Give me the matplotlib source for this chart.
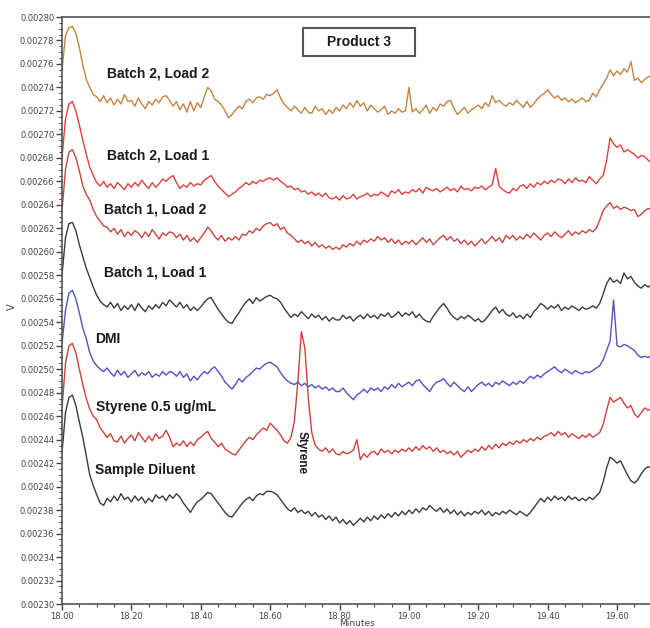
import matplotlib
matplotlib.use("Agg")
import matplotlib.pyplot as plt
import matplotlib.ticker as mticker
from matplotlib.patches import Rectangle
import numpy as np

# time axis (minutes), one reading every 0.01 min
minutes = np.round(np.arange(18.00, 19.705, 0.01), 2)

# detector signal, in units of 1e-5 V
batch2_load2 = [
    275.5, 278.4, 279.1, 279.2, 278.6, 277.4, 275.9, 274.7, 274.0, 273.4,
    273.2, 272.8, 273.3, 272.7, 273.1, 272.5, 273.0, 272.6, 273.4, 272.8,
    272.9, 272.4, 273.1, 272.6, 272.2, 272.8, 272.5, 273.0, 272.7, 273.2,
    273.3, 272.9, 272.4, 272.8, 272.1, 272.6, 271.9, 272.8, 272.0, 272.7,
    272.3, 273.2, 274.0, 273.7, 273.0, 272.8, 272.5, 272.0, 271.4, 271.7,
    272.1, 272.4, 272.2, 272.8, 273.0, 272.7, 273.1, 273.2, 273.0, 273.4,
    273.3, 273.5, 273.8, 273.1, 272.6, 272.3, 272.0, 272.4, 272.1, 271.8,
    272.3, 271.9, 271.8, 272.4, 272.0, 272.2, 271.7, 272.1, 271.8, 272.3,
    272.0, 272.5, 272.2, 272.7, 272.3, 272.9, 272.4, 272.7, 272.0, 272.5,
    272.2, 271.9, 272.1, 272.4, 271.7, 272.0, 271.8, 272.2, 271.9, 272.0,
    274.0, 271.9, 272.2, 271.8, 272.1, 272.5, 271.8, 272.3, 272.0, 272.6,
    272.4, 272.8, 272.9, 272.2, 271.7, 272.0, 272.3, 271.8, 272.1, 272.3,
    272.5, 272.2, 272.7, 272.4, 273.3, 272.7, 272.9, 272.6, 272.4, 272.7,
    272.5, 272.9, 272.6, 272.3, 272.8, 272.3, 272.6, 273.0, 273.3, 273.5,
    273.8, 273.4, 273.1, 273.3, 272.9, 273.1, 272.8, 273.0, 272.7, 272.9,
    273.1, 272.8, 272.9, 273.5, 273.2, 273.8, 274.3, 274.8, 275.5, 275.0,
    275.4, 275.1, 275.6, 275.3, 276.2, 274.6, 274.8, 274.4, 274.7, 274.9, 275.0]

batch2_load1 = [
    268.0, 271.3, 272.6, 272.8, 272.0, 270.8, 269.5, 268.3, 267.2, 266.5,
    265.9, 265.6, 266.0, 265.5, 265.8, 265.4, 265.9, 265.6, 265.3, 265.8,
    265.5, 265.9, 265.6, 266.1, 265.7, 265.4, 265.9, 265.5, 265.8, 266.2,
    266.0, 266.3, 266.5, 265.9, 265.4, 265.7, 265.5, 265.9, 265.6, 265.8,
    265.7, 266.1, 266.3, 266.5, 266.0, 265.6, 265.3, 265.0, 264.7, 264.9,
    265.1, 265.4, 265.6, 265.9, 265.7, 266.0, 265.8, 266.1, 266.0, 266.2,
    266.3, 266.1, 266.3, 266.0, 265.8, 265.5, 265.6, 265.3, 265.4, 265.1,
    265.2, 264.9, 265.1, 264.8, 265.0, 264.7, 265.0, 264.6, 264.5, 264.7,
    264.4, 264.8, 264.5, 264.6, 264.9, 264.5, 264.7, 264.8, 265.0, 264.7,
    264.9, 264.8, 265.1, 264.9, 264.7, 265.2, 265.0, 265.3, 264.9, 265.1,
    265.0, 265.3, 265.1, 265.4, 265.0, 265.5, 265.3, 265.2, 265.4, 265.1,
    265.3, 265.5, 265.2, 265.4, 265.1, 265.6, 265.3, 265.4, 265.2, 265.5,
    265.4, 265.6, 265.3, 265.5, 265.7, 267.1, 265.6, 265.3, 265.1, 265.0,
    265.4, 265.2, 265.6, 265.7, 265.4, 265.8, 265.5, 265.9, 265.7, 266.0,
    265.8, 266.1, 265.9, 266.2, 266.1, 265.8, 266.2, 265.9, 266.3, 266.0,
    266.1, 265.9, 266.4, 266.1, 265.8, 266.2, 266.5, 267.8, 269.7, 269.2,
    268.9, 269.1, 268.5, 268.7, 268.5, 268.3, 268.0, 268.2, 268.1, 267.8, 267.6]

batch1_load2 = [
    263.5, 267.0, 268.5, 268.7, 268.0, 266.9, 265.6, 264.9, 264.4, 263.6,
    263.0, 262.6, 262.2, 262.1, 261.7, 262.0, 261.5, 261.9, 261.3, 261.7,
    261.4, 261.8, 261.6, 261.2, 261.7, 261.3, 261.9, 261.5, 261.1, 261.6,
    261.4, 261.7, 261.6, 261.2, 261.5, 261.0, 261.4, 260.9, 261.2, 260.8,
    261.2, 261.6, 262.1, 261.8, 261.3, 261.0, 261.4, 260.9, 261.2, 261.0,
    261.3, 261.0, 261.5, 261.4, 261.8, 261.6, 262.0, 261.8, 262.2, 262.4,
    262.5, 262.2, 262.4, 261.9, 262.1, 261.6, 261.4, 261.1, 260.8, 261.0,
    260.7, 260.9, 260.5, 260.8, 260.4, 260.6, 260.3, 260.5, 260.2, 260.4,
    260.2, 260.6, 260.4, 260.7, 260.5, 260.9, 260.6, 261.0, 260.8, 261.1,
    260.9, 261.3, 261.0, 261.2, 260.8, 261.1, 260.7, 261.0, 260.6, 260.9,
    260.7, 261.0, 260.6, 260.9, 261.2, 260.8, 261.1, 260.6, 260.9, 261.2,
    261.4, 261.0, 261.3, 260.9, 261.1, 260.7, 261.0, 260.6, 260.9, 260.5,
    260.8, 261.1, 260.7, 261.0, 261.3, 260.9, 261.2, 260.8, 261.4, 261.1,
    261.4, 261.0, 261.3, 261.1, 261.5, 261.2, 261.6, 261.3, 261.0, 261.4,
    261.6, 261.3, 261.7, 261.4, 261.2, 261.5, 261.8, 261.4, 261.7, 261.5,
    261.8, 261.6, 261.9, 261.7, 262.0, 262.7, 263.5, 263.9, 264.2, 263.7,
    263.9, 263.6, 263.8, 263.7, 263.5, 263.6, 263.0, 263.2, 263.5, 263.7, 263.6]

batch1_load1 = [
    258.0, 261.2, 262.4, 262.5, 261.8, 260.6, 259.6, 258.6, 257.8, 257.0,
    256.3, 255.8, 255.5, 255.3, 255.7, 255.2, 255.6, 255.0, 255.4, 255.1,
    255.5, 255.0, 255.6, 255.2, 254.9, 255.4, 255.1, 255.5, 255.2, 255.7,
    255.4, 255.9, 255.6, 255.3, 255.7, 255.2, 255.5, 255.0, 255.3, 255.0,
    255.3, 255.7, 256.0, 256.1, 255.6, 255.1, 254.7, 254.3, 254.0, 253.9,
    254.4, 254.8, 255.3, 255.7, 256.0, 255.6, 256.1, 255.8, 256.0, 256.2,
    256.3, 256.1, 256.0, 255.7, 255.2, 254.8, 254.4, 254.7, 254.5, 254.9,
    254.6, 254.3, 254.7, 254.4, 254.6, 254.2, 254.5, 254.1, 254.4, 254.2,
    254.2, 254.6, 254.3, 254.5, 254.1, 254.4, 254.6, 254.3, 254.7, 254.4,
    254.6, 254.3, 254.7, 254.5, 254.8, 254.4, 254.6, 254.9, 254.5, 254.8,
    254.6, 254.9, 254.4, 254.7, 254.3, 254.1, 254.0, 254.5, 254.9, 255.3,
    255.6, 255.2, 254.7, 254.4, 254.2, 254.5, 254.3, 254.6, 254.4, 254.1,
    254.3, 254.0, 254.2, 254.6, 255.0, 255.3, 254.8, 255.1, 254.7, 254.5,
    254.8, 254.4, 254.6, 254.3, 254.7, 254.4, 254.9, 255.2, 255.6, 255.4,
    255.1, 255.4, 255.2, 255.5, 255.0, 255.3, 255.1, 255.4, 255.2, 255.0,
    255.3, 255.1, 255.2, 255.4, 255.2, 255.6, 256.4, 257.3, 257.8, 257.4,
    257.6, 257.3, 258.2, 257.7, 257.9, 257.4, 257.1, 256.9, 257.2, 257.0, 257.2]

dmi = [
    252.2, 255.0, 256.5, 256.7, 256.0, 254.8, 253.5, 252.6, 251.4, 250.7,
    250.3, 250.0, 249.8, 250.1, 249.7, 249.4, 249.9, 249.5, 249.8, 249.3,
    249.6, 249.9, 249.4, 249.7, 249.5, 249.8, 249.3, 249.6, 249.4, 249.8,
    249.5, 249.8, 249.7, 249.4, 249.8, 249.3, 249.6, 249.0, 249.4, 249.1,
    249.5, 249.8, 249.6, 250.0, 250.2, 249.8, 249.4, 248.9, 248.6, 248.3,
    248.7, 249.2, 248.9, 249.3, 249.5, 249.8, 250.1, 250.0, 250.3, 250.5,
    250.6, 250.4, 250.2, 249.7, 249.3, 249.0, 248.8, 248.7, 248.9, 248.6,
    248.8, 248.5, 248.7, 248.4, 248.6, 248.3, 248.5, 248.2, 248.4, 248.1,
    248.1, 248.4, 248.0, 247.7, 247.4, 247.8, 248.0, 248.3, 248.0, 248.4,
    248.2, 248.4, 248.1, 248.5, 248.3, 248.7, 248.4, 248.8, 248.5, 248.7,
    248.9, 248.6, 249.0, 249.1, 248.7, 248.4, 248.1, 248.6, 248.9, 249.0,
    249.2, 248.8, 248.5, 248.9, 248.6, 248.3, 248.1, 248.5, 248.1, 248.4,
    248.7, 248.9, 248.6, 248.8, 248.5, 248.9, 248.7, 249.0, 248.8, 248.6,
    248.9, 248.7, 249.0, 248.8, 249.1, 249.4, 249.2, 249.5, 249.3, 249.6,
    249.8, 250.0, 250.2, 249.9, 249.7, 250.0, 249.8, 249.6, 249.9, 249.7,
    249.6, 249.8, 249.7, 249.9, 250.1, 250.3, 250.8, 251.6, 252.4, 255.9,
    252.0, 251.9, 252.1, 252.0, 251.8, 251.6, 251.2, 251.0, 251.1, 251.0, 251.2]

styrene_std = [
    246.7, 250.5, 252.0, 252.2, 251.4, 250.0, 248.7, 247.5, 246.6, 246.0,
    245.7, 245.0, 244.6, 244.2, 244.5, 243.9, 243.8, 244.3, 243.7, 244.1,
    244.4, 243.9, 244.6, 244.2, 243.8, 244.3, 243.9, 244.5, 244.1, 244.3,
    244.8, 244.2, 243.4, 243.7, 243.5, 243.9, 243.4, 243.8, 243.5, 244.0,
    244.2, 244.5, 244.7, 244.1, 243.8, 243.4, 243.7, 243.2, 243.0, 242.8,
    242.7, 243.1, 243.5, 243.9, 244.2, 244.0, 244.4, 244.7, 245.0, 244.8,
    245.4, 245.1, 244.8, 244.4, 243.9, 243.7, 244.2, 245.6, 249.0, 253.2,
    251.8, 247.5, 244.6, 243.5, 243.2, 243.0, 243.3, 242.9, 243.2, 242.8,
    242.7, 243.0, 242.8, 242.9, 243.1, 244.0, 242.3, 242.8, 242.5, 242.9,
    243.0, 242.7, 243.2, 242.9, 243.1, 242.8, 243.1, 242.9, 243.2, 243.0,
    243.3, 243.0, 243.4, 243.1, 243.5, 243.2, 243.4, 243.0, 243.3, 242.9,
    243.1, 242.8, 243.0, 242.7, 243.0, 242.5, 242.8, 243.1, 242.9, 243.2,
    243.0, 243.4, 243.1, 243.5, 243.2, 243.6, 243.3, 243.7, 243.5, 243.8,
    243.6, 243.9, 243.7, 244.0, 243.8, 244.1, 243.9, 244.2, 244.0, 244.3,
    244.4, 244.6, 244.3, 244.7, 244.4, 244.6, 244.2, 244.5, 244.3, 244.1,
    244.4, 244.2, 244.5, 244.2, 244.4, 244.6, 245.3, 246.5, 247.6, 247.2,
    247.4, 247.6, 247.1, 246.7, 246.9, 246.2, 245.9, 246.3, 246.7, 246.5, 246.7]

sample_diluent = [
    242.9, 246.3, 247.6, 247.8, 246.9, 245.5, 244.2, 242.6, 241.0, 240.1,
    239.3, 238.6, 238.4, 239.0, 238.7, 239.2, 238.8, 239.4, 238.9, 239.1,
    238.7, 239.2, 238.8, 239.1, 238.6, 239.0, 238.7, 239.3, 239.0, 239.2,
    238.8, 239.3, 239.0, 239.4, 239.1, 238.6, 238.2, 237.8, 238.3, 238.7,
    238.9, 239.2, 239.5, 239.4, 239.0, 238.6, 238.2, 237.8, 237.5, 237.4,
    237.8, 238.2, 238.6, 238.9, 239.1, 238.8, 239.2, 239.4, 239.3, 239.6,
    239.6, 239.5, 239.3, 238.9, 238.5, 238.1, 237.9, 238.2, 237.8, 238.0,
    237.7, 237.9, 237.5, 237.8, 237.4, 237.6, 237.2, 237.5, 237.1, 237.4,
    236.9, 237.2, 236.8, 237.1, 236.7, 237.0, 237.3, 237.0, 237.4, 237.1,
    237.5, 237.2, 237.6, 237.3, 237.7, 237.4, 237.8, 237.5, 237.9, 237.6,
    238.0, 237.7, 238.1, 237.8, 238.2, 238.0, 238.4, 238.1, 237.9, 238.2,
    237.8, 238.1, 237.7, 238.0, 237.6, 237.9, 237.5, 237.8, 237.6, 237.9,
    237.7, 238.0, 237.6, 237.9, 237.5, 237.8, 237.6, 237.9, 237.7, 238.0,
    237.8, 237.6, 237.9, 237.7, 237.5, 237.8, 238.2, 238.6, 239.0, 238.7,
    239.1, 238.8, 239.2, 238.9, 239.1, 238.8, 239.2, 238.9, 239.1, 238.8,
    239.0, 238.8, 239.1, 238.9, 239.2, 239.5, 240.4, 241.6, 242.5, 242.3,
    242.0, 242.2, 241.6, 241.0, 240.5, 240.3, 240.6, 241.1, 241.5, 241.7, 241.6]

trace_names = ["Batch 2, Load 2", "Batch 2, Load 1", "Batch 1, Load 2",
               "Batch 1, Load 1", "DMI", "Styrene 0.5 ug/mL", "Sample Diluent"]
traces = [batch2_load2, batch2_load1, batch1_load2, batch1_load1,
          dmi, styrene_std, sample_diluent]
trace_colors = ["#c4843e", "#e2403c", "#c9463f", "#3c3c3c",
                "#5252c2", "#d2403a", "#3c3c3c"]
# label anchor (minutes, 1e-5 V)
label_x = [18.13, 18.13, 18.12, 18.12, 18.096, 18.099, 18.096]
label_y = [275.2, 268.2, 263.6, 258.2, 252.6, 246.8, 241.4]

scale = 1e-5

fig = plt.figure(figsize=(6.5, 6.28), dpi=100)
ax = fig.add_axes([0.0954, 0.0382, 0.9046, 0.9347])

for vals, col in zip(traces, trace_colors):
    ax.plot(minutes, np.array(vals) * scale, color=col, linewidth=1.0)

for name, lx, ly in zip(trace_names, label_x, label_y):
    ax.text(lx, ly * scale, name, fontsize=10, fontweight='bold',
            family='Liberation Sans', color='#1a1a1a', ha='left', va='center')

# peak label
ax.text(18.691, 242.9 * scale, 'Styrene', fontsize=8.5, fontweight='bold',
        family='Liberation Sans', color='#1a1a1a', rotation=270,
        ha='center', va='center')

# title box
ax.add_patch(Rectangle((0.41, 0.934), 0.19, 0.047, transform=ax.transAxes,
                       fill=False, edgecolor='#555555', linewidth=1.5))
ax.text(0.505, 0.9575, 'Product 3', transform=ax.transAxes, fontsize=10,
        fontweight='bold', family='Liberation Sans', color='#1a1a1a',
        ha='center', va='center')

ax.set_xlim(18.0, 19.695)
ax.set_ylim(0.00230, 0.00280)

ax.yaxis.set_major_locator(mticker.MultipleLocator(0.00002))
ax.yaxis.set_minor_locator(mticker.AutoMinorLocator(4))
ax.yaxis.set_major_formatter(mticker.FormatStrFormatter('%.5f'))
ax.xaxis.set_major_locator(mticker.MultipleLocator(0.2))
ax.xaxis.set_minor_locator(mticker.MultipleLocator(0.05))
ax.xaxis.set_major_formatter(mticker.FormatStrFormatter('%.2f'))

ax.tick_params(which='major', direction='out', length=4, width=1,
               color='#444444', labelsize=6, labelcolor='#444444', pad=1.5)
ax.tick_params(which='minor', direction='out', length=2, width=0.8,
               color='#444444')

for s in ['left', 'bottom', 'top']:
    ax.spines[s].set_color('#555555')
    ax.spines[s].set_linewidth(1.2)
ax.spines['right'].set_visible(False)

fig.text(12 / 650, 1 - 307 / 628, 'V', fontsize=7, rotation=90,
         color='#444444', ha='center', va='center')
fig.text(357 / 650, 1 - 623.5 / 628, 'Minutes', fontsize=6.5,
         color='#444444', ha='center', va='center')

fig.savefig('out.png', dpi=100)
